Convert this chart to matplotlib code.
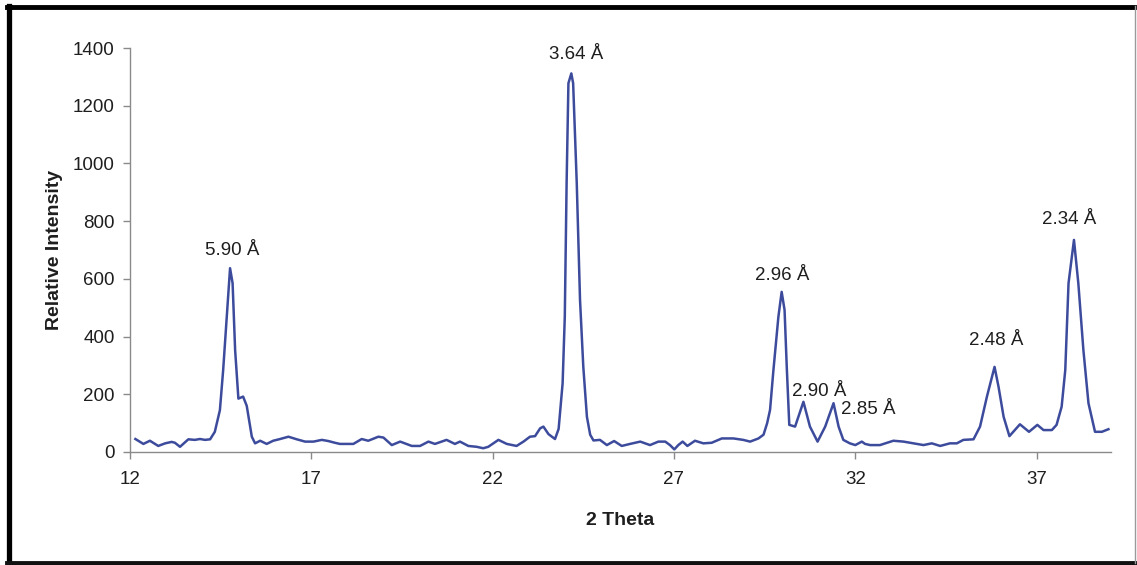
import matplotlib as mpl
from matplotlib import pyplot as plt
from matplotlib.lines import Line2D

mpl.use('Agg')

plt.rcParams['font.family'] = ['Liberation Sans', 'DejaVu Sans']

# diffraction pattern, 2 theta (deg) vs counts
two_theta = [
    12.15, 12.37, 12.55, 12.78, 12.97, 13.15, 13.24, 13.38, 13.61, 13.79,
    13.93, 14.07, 14.21, 14.34, 14.48, 14.57, 14.67, 14.76, 14.83, 14.90,
    14.99, 15.12, 15.22, 15.36, 15.45, 15.59, 15.77, 15.95, 16.14, 16.37,
    16.60, 16.83, 17.06, 17.29, 17.47, 17.65, 17.79, 18.16, 18.39, 18.57,
    18.85, 18.99, 19.22, 19.45, 19.77, 20.00, 20.23, 20.41, 20.73, 20.96,
    21.10, 21.33, 21.56, 21.74, 21.88, 22.16, 22.39, 22.66, 22.85, 23.03,
    23.17, 23.31, 23.40, 23.54, 23.72, 23.82, 23.93, 23.99, 24.04, 24.09,
    24.17, 24.22, 24.32, 24.41, 24.50, 24.60, 24.69, 24.78, 24.96, 25.15,
    25.35, 25.56, 25.79, 26.07, 26.34, 26.57, 26.76, 26.89, 27.01, 27.12,
    27.24, 27.37, 27.58, 27.81, 28.04, 28.32, 28.64, 28.91, 29.10, 29.33,
    29.47, 29.57, 29.65, 29.74, 29.88, 29.97, 30.05, 30.11, 30.18, 30.34,
    30.57, 30.75, 30.96, 31.17, 31.40, 31.54, 31.67, 31.85, 32.00, 32.18,
    32.27, 32.41, 32.68, 33.05, 33.33, 33.60, 33.88, 34.11, 34.34, 34.61,
    34.80, 34.98, 35.26, 35.44, 35.63, 35.77, 35.84, 35.95, 36.09, 36.25,
    36.54, 36.79, 37.02, 37.19, 37.42, 37.55, 37.69, 37.79, 37.88, 38.03,
    38.15, 38.29, 38.43, 38.61, 38.80, 38.98,
]
intensity = [
    45, 28, 39, 21, 30, 35, 32, 18, 44, 42,
    45, 42, 44, 70, 145, 284, 469, 637, 585, 353,
    185, 192, 160, 53, 30, 39, 28, 39, 45, 53,
    44, 36, 36, 42, 38, 32, 28, 28, 45, 39,
    53, 50, 24, 36, 21, 21, 36, 28, 42, 28,
    36, 21, 18, 13, 18, 42, 28, 21, 36, 53,
    55, 82, 88, 62, 45, 80, 238, 469, 931, 1278,
    1312, 1278, 931, 527, 296, 122, 60, 40, 42, 24,
    38, 21, 28, 36, 24, 36, 36, 24, 9, 24,
    36, 21, 39, 30, 32, 47, 47, 42, 36, 47,
    60, 100, 146, 280, 469, 555, 492, 296, 94, 88,
    174, 88, 36, 88, 169, 88, 42, 30, 24, 36,
    28, 24, 24, 39, 36, 30, 24, 30, 21, 30,
    30, 42, 44, 88, 192, 261, 295, 226, 122, 55,
    96, 70, 94, 76, 76, 94, 157, 284, 585, 735,
    585, 353, 169, 70, 70, 79,
]

# d-spacing labels and where they sit
peak_labels = ['5.90 Å', '3.64 Å', '2.96 Å', '2.90 Å', '2.85 Å', '2.48 Å', '2.34 Å']
label_x = [14.81, 24.30, 29.98, 31.00, 32.35, 35.88, 37.90]
label_y = [700, 1379, 610, 208, 146, 385, 807]

x_ticks = [12, 17, 22, 27, 32, 37]
y_ticks = [0, 200, 400, 600, 800, 1000, 1200, 1400]

fig = plt.figure(figsize=(11.37, 5.65), dpi=100)
ax = fig.add_axes([0.1143, 0.2, 0.8628, 0.715])

ax.plot(two_theta, intensity, color='#3d4b9c', linewidth=1.8,
        solid_joinstyle='round')

for txt, lx, ly in zip(peak_labels, label_x, label_y):
    ax.text(lx, ly, txt, ha='center', va='center', fontsize=13.5, color='#1e1e1e')

ax.set_xlim(12, 39.05)
ax.set_ylim(0, 1400)
ax.set_xticks(x_ticks)
ax.set_yticks(y_ticks)

for side in ('top', 'right'):
    ax.spines[side].set_visible(False)
for side in ('left', 'bottom'):
    ax.spines[side].set_color('#8a8a8a')
    ax.spines[side].set_linewidth(1.0)

ax.tick_params(axis='both', direction='out', length=5, width=1.0,
               color='#8a8a8a', labelsize=13.5, labelcolor='#1e1e1e')
ax.tick_params(axis='x', pad=9)
ax.tick_params(axis='y', pad=6)

ax.set_xlabel('2 Theta', fontsize=14, fontweight='bold', color='#1e1e1e', labelpad=17)
ax.set_ylabel('Relative Intensity', fontsize=14, fontweight='bold', color='#1e1e1e',
              labelpad=7)

# picture frame
fig.add_artist(Line2D([0.006, 0.997], [0.987, 0.987], transform=fig.transFigure,
                      color='black', linewidth=3.5))
fig.add_artist(Line2D([0.008, 0.008], [0.003, 0.99], transform=fig.transFigure,
                      color='black', linewidth=3.8))
fig.add_artist(Line2D([0.006, 0.999], [0.004, 0.004], transform=fig.transFigure,
                      color='#111111', linewidth=3.5))
fig.add_artist(Line2D([0.9985, 0.9985], [0.004, 0.99], transform=fig.transFigure,
                      color='#9a9a9a', linewidth=1.0))

plt.savefig('out.png', dpi=100)
